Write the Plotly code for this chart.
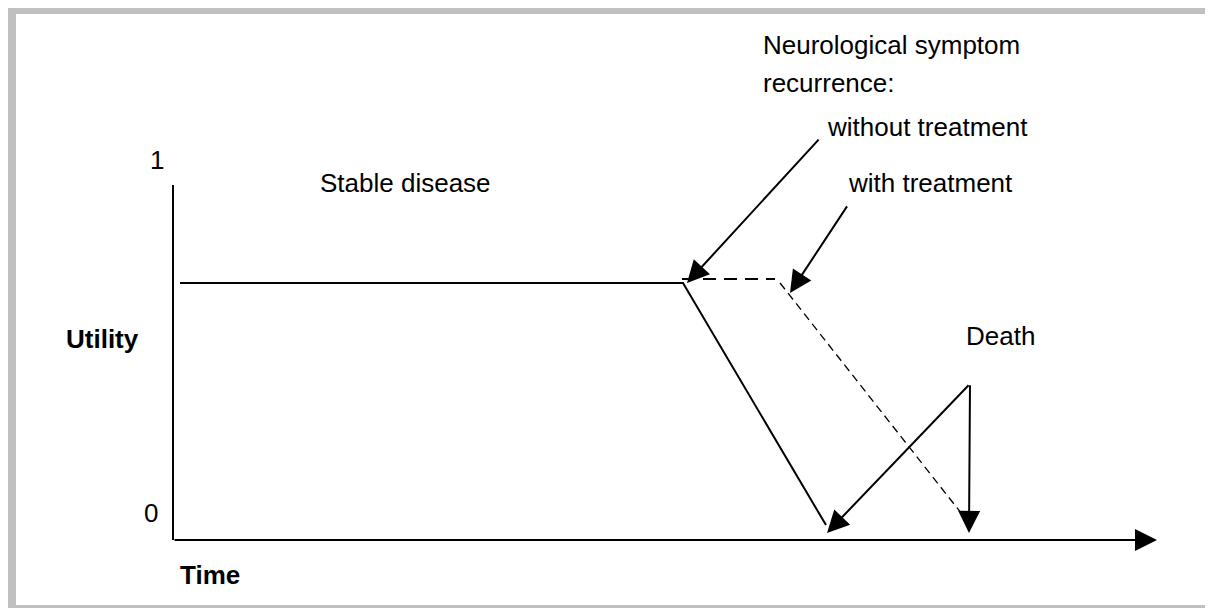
import plotly.graph_objects as go

# utility over time (arbitrary time units, utility 0..1)
stable_time = [0.07, 5.10, 6.53]
stable_utility = [0.724, 0.724, 0.042]

treated_time = [5.09, 6.02]
treated_utility = [0.735, 0.735]
treated_decline_time = [6.07, 7.87]
treated_decline_utility = [0.724, 0.08]

axis_time = [0, 0]
axis_utility = [0, 1]
time_axis_end = 9.84

# arrows: (tail time, tail utility, tip time, tip utility)
arrow_without = [6.47, 1.132, 5.14, 0.724]
arrow_with = [6.75, 0.944, 6.17, 0.696]
arrow_death_1 = [7.97, 0.44, 6.54, 0.02]
arrow_death_2 = [7.97, 0.44, 7.96, 0.02]

font = dict(family="Arial, Liberation Sans, sans-serif", size=26, color="black")

fig = go.Figure()
fig.add_trace(go.Scatter(x=axis_time, y=axis_utility, mode="lines",
                         line=dict(color="black", width=2)))
fig.add_trace(go.Scatter(x=stable_time, y=stable_utility, mode="lines",
                         line=dict(color="black", width=2)))
fig.add_trace(go.Scatter(x=treated_time, y=treated_utility, mode="lines",
                         line=dict(color="black", width=2, dash="13px,8px")))
fig.add_trace(go.Scatter(x=treated_decline_time, y=treated_decline_utility, mode="lines",
                         line=dict(color="black", width=1.3, dash="8px,5px")))

annotations = []

def arrow(a, width=2):
    annotations.append(dict(x=a[2], y=a[3], ax=a[0], ay=a[1], xref="x", yref="y",
                            axref="x", ayref="y", text="", showarrow=True,
                            arrowhead=2, arrowsize=2.2, arrowwidth=width,
                            arrowcolor="black", standoff=0))

arrow([0, 0, time_axis_end, 0])
arrow(arrow_without)
arrow(arrow_with)
arrow(arrow_death_1)
arrow(arrow_death_2)

def label(text, x, y, anchor="center", bold=False):
    if bold:
        text = "<b>" + text + "</b>"
    annotations.append(dict(x=x, y=y, xref="x", yref="y", text=text, showarrow=False,
                            xanchor=anchor, yanchor="middle", font=font))

label("1", -0.16, 1.07)
label("0", -0.22, 0.076)
label("Utility", -0.71, 0.566, bold=True)
label("Time", 0.37, -0.099, bold=True)
label("Stable disease", 2.32, 1.006)
label("Neurological symptom", 5.88, 1.394, anchor="left")
label("recurrence:", 5.88, 1.287, anchor="left")
label("without treatment", 6.52, 1.163, anchor="left")
label("with treatment", 6.73, 1.006, anchor="left")
label("Death", 8.27, 0.575)

# the page body adds an 8px margin, so the figure is laid out 8px up and left
W, H = 1213, 608
fig.update_layout(
    width=W, height=H,
    margin=dict(l=0, r=0, t=0, b=0),
    showlegend=False,
    plot_bgcolor="white", paper_bgcolor="white",
    xaxis=dict(visible=False, range=[-1.65, 10.48], fixedrange=True),
    yaxis=dict(visible=False, range=[-0.2141, 1.4986], fixedrange=True),
    annotations=annotations,
    shapes=[dict(type="rect", xref="paper", yref="paper",
                 x0=3.5 / W, x1=1207.5 / W, y0=1 - 601.5 / H, y1=1 - 1.5 / H,
                 line=dict(color="#c0c0c0", width=9))],
)

fig.write_html("out.html")
